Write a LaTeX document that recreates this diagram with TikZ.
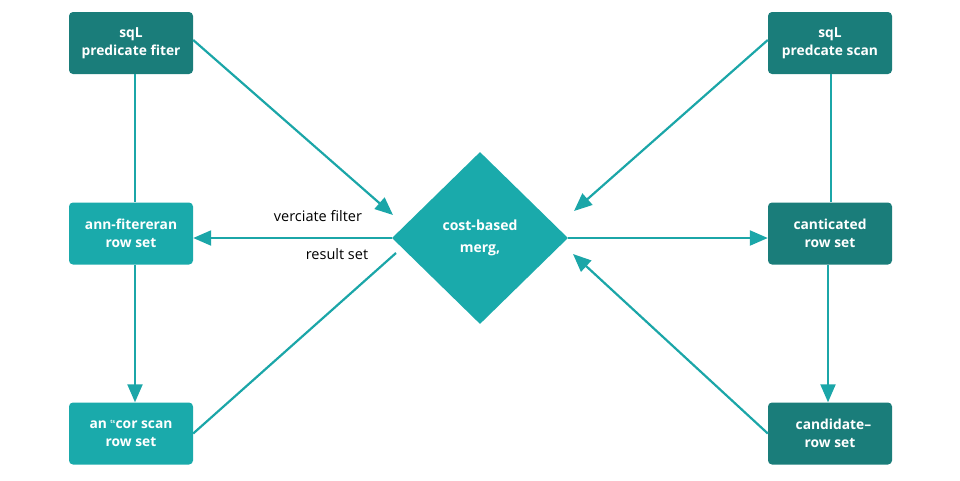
\documentclass[tikz,border=0pt]{standalone}
\usepackage{fontspec}
\setmainfont{Open Sans}
\usetikzlibrary{arrows.meta,shapes.geometric}
\definecolor{darkteal}{HTML}{1A7D7A}
\definecolor{lightteal}{HTML}{1AAAAB}
\definecolor{linec}{HTML}{1BA6A8}
\begin{document}
\begin{tikzpicture}[x=1pt,y=-1pt,
  darkbox/.style={draw=none,fill=darkteal,rounded corners=4pt,minimum width=124pt,minimum height=62pt,text=white,align=center,font=\fontsize{13.8}{18.5}\selectfont\bfseries,inner sep=2pt},
  lightbox/.style={darkbox,fill=lightteal},
  conn/.style={draw=linec,line width=2.2pt},
  arr/.style={conn,-{Triangle[length=18pt,width=15pt]}},
  lbl/.style={font=\fontsize{14.5}{16}\selectfont,text=black,inner sep=0pt}]
\useasboundingbox (0,0) rectangle (960,480);
\node[darkbox] (tl) at (131,43) {sqL\\predicate fiter};
\node[darkbox] (tr) at (830,43) {sqL\\predcate scan};
\node[lightbox] (ml) at (131,233.5) {ann-fitereran\\row set};
\node[darkbox] (mr) at (830,233.5) {canticated\\row set};
\node[lightbox] (bl) at (131,433.5) {an \textsuperscript{\tiny ts}cor scan\\row set};
\node[darkbox] (br) at (830,433.5) {candidate\rlap{--}\\row set};
\node[diamond,fill=lightteal,minimum width=176pt,minimum height=172pt,inner sep=0pt,text=white,align=center,font=\fontsize{14}{22}\selectfont\bfseries] (dia) at (480,238) {cost-based\\merg,};
\node[lbl] (l1) at (318,216) {verciate filter};
\node[lbl] (l2) at (337,254) {result set};
\coordinate (a1) at (393,215);
\coordinate (a2) at (574,211);
\coordinate (a5) at (396,253);
\coordinate (a6) at (573,254);
\draw[arr] ([yshift=3pt]tl.east) -- (a1);
\draw[arr] ([yshift=3pt]tr.west) -- (a2);
\draw[arr] (dia.west) -- (ml.east |- dia.west);
\draw[arr] (dia.east) -- (mr.west |- dia.east);
\draw[conn] (bl.east) -- (a5);
\draw[arr] (br.west) -- (a6);
\draw[conn] ([xshift=4pt]tl.south) -- ([xshift=4pt]ml.north);
\draw[arr] ([xshift=4pt]ml.south) -- ([xshift=4pt]bl.north);
\draw[conn] ([xshift=1pt]tr.south) -- ([xshift=1pt]mr.north);
\draw[arr] ([xshift=-2pt]mr.south) -- ([xshift=-2pt]br.north);
\end{tikzpicture}
\end{document}
